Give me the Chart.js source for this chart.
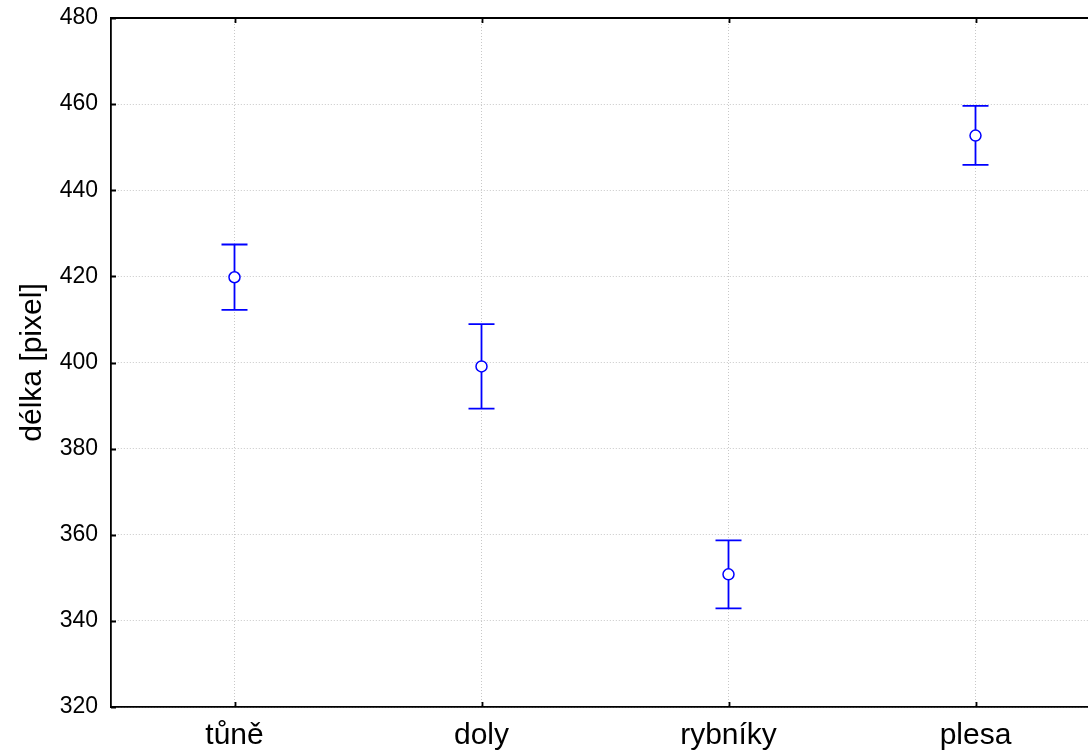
<!DOCTYPE html>
<html>
<head>
<meta charset="utf-8">
<script src="https://cdn.jsdelivr.net/npm/chart.js@4/dist/chart.umd.min.js"></script>
<style>
  html, body { margin: 0; padding: 0; background: #fff; overflow: hidden; }
  /* plot area runs past the right edge of the picture, so the canvas is a bit wider and clipped */
  #wrap { width: 1088px; height: 756px; overflow: hidden; }
</style>
</head>
<body>
<div id="wrap"><canvas id="chart" width="1099" height="756"></canvas></div>
<script>
// data
const categories = ['tůně', 'doly', 'rybníky', 'plesa'];
const means = [419.8, 399.1, 350.8, 452.7];
const lower = [412.2, 389.3, 342.9, 445.9];
const upper = [427.4, 408.9, 358.7, 459.6];
const yTicks = [320, 340, 360, 380, 400, 420, 440, 460, 480];

const blue = '#0000ff';
const font = 'Liberation Sans, Arial, sans-serif';

// error bars + frame ticks
const errorBars = {
    id: 'errorBars',
    beforeDatasetsDraw(chart) {
        const c = chart.ctx;
        const xs = chart.scales.x;
        const ys = chart.scales.y;
        c.save();
        c.strokeStyle = blue;
        c.lineWidth = 1.8;
        c.beginPath();
        for (let i = 0; i < categories.length; i++) {
            const x = xs.getPixelForValue(i);
            const yl = ys.getPixelForValue(lower[i]);
            const yu = ys.getPixelForValue(upper[i]);
            c.moveTo(x, yl);
            c.lineTo(x, yu);
            c.moveTo(x - 13, yl);
            c.lineTo(x + 13, yl);
            c.moveTo(x - 13, yu);
            c.lineTo(x + 13, yu);
        }
        c.stroke();
        c.restore();
    },
    afterDraw(chart) {
        const c = chart.ctx;
        const a = chart.chartArea;
        const xs = chart.scales.x;
        const ys = chart.scales.y;
        c.save();
        c.strokeStyle = '#000';
        c.lineWidth = 1.8;
        c.beginPath();
        // top frame line
        c.moveTo(a.left, a.top);
        c.lineTo(a.right, a.top);
        // inward ticks
        for (let i = 0; i < categories.length; i++) {
            const x = Math.round(xs.getPixelForValue(i)) + 0.5;
            c.moveTo(x, a.bottom);
            c.lineTo(x, a.bottom - 5);
            c.moveTo(x, a.top);
            c.lineTo(x, a.top + 5);
        }
        yTicks.forEach(v => {
            const y = Math.round(ys.getPixelForValue(v)) + 0.5;
            c.moveTo(a.left, y);
            c.lineTo(a.left + 5, y);
        });
        c.stroke();
        c.restore();
    }
};

const ctx = document.getElementById('chart').getContext('2d');
const chart = new Chart(ctx, {
    type: 'line',
    data: {
        labels: categories,
        datasets: [{
            data: means,
            showLine: false,
            pointStyle: 'circle',
            pointRadius: 5.5,
            pointBorderWidth: 1.5,
            pointBorderColor: blue,
            pointBackgroundColor: '#fff'
        }]
    },
    plugins: [errorBars],
    options: {
        responsive: false,
        animation: false,
        events: [],
        layout: { autoPadding: false, padding: { top: 18, right: 0, left: 0, bottom: 0 } },
        plugins: {
            legend: { display: false },
            tooltip: { enabled: false }
        },
        scales: {
            x: {
                type: 'category',
                offset: true,
                afterFit: s => {
                    s.height = 49;
                    s.paddingLeft = 0;
                    s.paddingRight = 0;
                },
                grid: { color: '#c8c8c8', lineWidth: 1, drawTicks: false, offset: false },
                border: { color: '#000', width: 1.8, dash: [1, 2] },
                ticks: {
                    color: '#000',
                    padding: 11,
                    font: { family: font, size: 30 }
                }
            },
            y: {
                min: 320,
                max: 480,
                afterFit: s => {
                    s.width = 111;
                    s.paddingTop = 0;
                    s.paddingBottom = 0;
                },
                afterBuildTicks: s => { s.ticks = yTicks.map(v => ({ value: v })); },
                grid: { color: '#c8c8c8', lineWidth: 1, drawTicks: false },
                border: { color: '#000', width: 1.8, dash: [1, 2] },
                ticks: {
                    color: '#000',
                    padding: 13,
                    font: { family: font, size: 23 }
                },
                title: {
                    display: true,
                    text: 'délka [pixel]',
                    color: '#000',
                    padding: { top: 15, bottom: 0 },
                    font: { family: font, size: 30 }
                }
            }
        }
    }
});
</script>
</body>
</html>
